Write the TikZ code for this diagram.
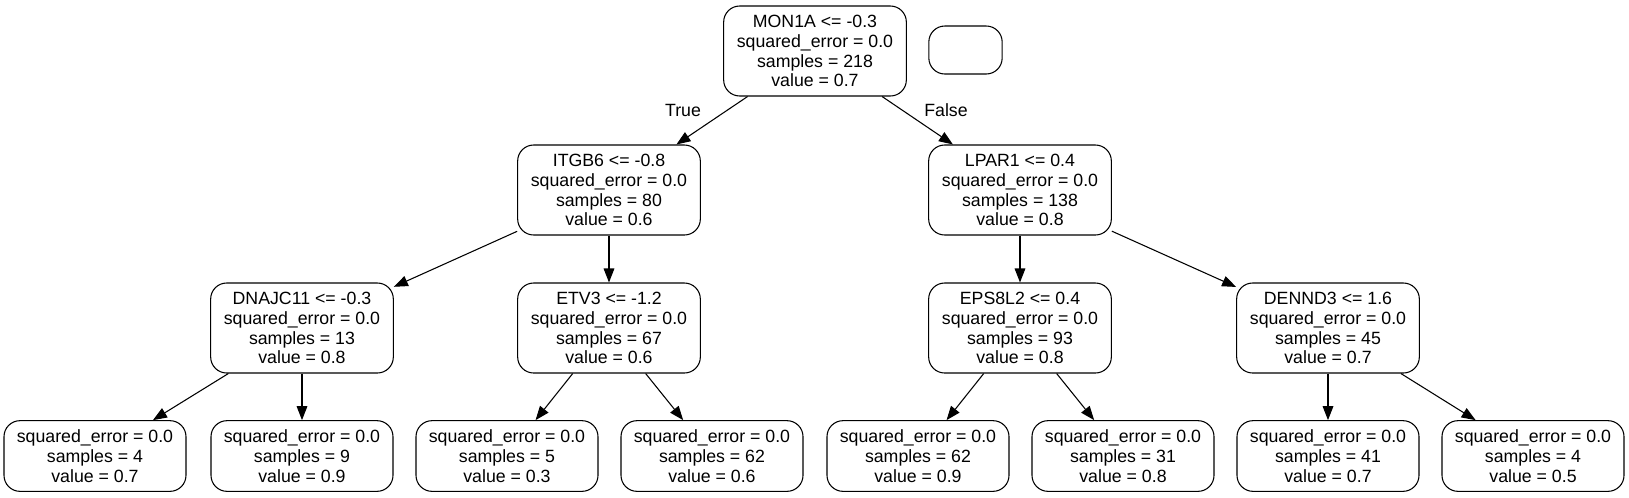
\documentclass[tikz,border=0pt]{standalone}
\usepackage{fontspec}
\setmainfont{Liberation Sans}
\usetikzlibrary{arrows.meta}

\begin{document}
\begin{tikzpicture}[x=0.75pt, y=-0.75pt,
  split/.style={draw, rounded corners=12pt, line width=0.8pt, align=center,
    inner sep=0pt, minimum width=137pt, minimum height=67.5pt,
    font=\fontsize{13.3}{14.9}\selectfont},
  leaf/.style={split, minimum width=136.5pt, minimum height=53pt},
  edge/.style={-{Triangle[length=10.5pt,width=8pt]}, line width=0.8pt}]
  \useasboundingbox (0,0) rectangle (1629,497);
  % root and the empty box next to it
  \node[split] (mon1a) at (815,51) {MON1A <= -0.3\\squared\_error = 0.0\\samples = 218\\value = 0.7};
  \node[draw, rounded corners=12pt, line width=0.8pt, minimum width=55pt, minimum height=36pt] (blank) at (965.5,50) {};
  % second level
  \node[split] (itgb6) at (609,190) {ITGB6 <= -0.8\\squared\_error = 0.0\\samples = 80\\value = 0.6};
  \node[split] (lpar1) at (1020,190) {LPAR1 <= 0.4\\squared\_error = 0.0\\samples = 138\\value = 0.8};
  % third level
  \node[split] (dnajc11) at (302,328) {DNAJC11 <= -0.3\\squared\_error = 0.0\\samples = 13\\value = 0.8};
  \node[split] (etv3) at (609,328) {ETV3 <= -1.2\\squared\_error = 0.0\\samples = 67\\value = 0.6};
  \node[split] (eps8l2) at (1020,328) {EPS8L2 <= 0.4\\squared\_error = 0.0\\samples = 93\\value = 0.8};
  \node[split] (dennd3) at (1328,328) {DENND3 <= 1.6\\squared\_error = 0.0\\samples = 45\\value = 0.7};
  % leaves
  \node[leaf] (l1) at (95,456) {squared\_error = 0.0\\samples = 4\\value = 0.7};
  \node[leaf] (l2) at (302,456) {squared\_error = 0.0\\samples = 9\\value = 0.9};
  \node[leaf] (l3) at (507,456) {squared\_error = 0.0\\samples = 5\\value = 0.3};
  \node[leaf] (l4) at (712,456) {squared\_error = 0.0\\samples = 62\\value = 0.6};
  \node[leaf] (l5) at (918,456) {squared\_error = 0.0\\samples = 62\\value = 0.9};
  \node[leaf] (l6) at (1123,456) {squared\_error = 0.0\\samples = 31\\value = 0.8};
  \node[leaf] (l7) at (1328,456) {squared\_error = 0.0\\samples = 41\\value = 0.7};
  \node[leaf] (l8) at (1533,456) {squared\_error = 0.0\\samples = 4\\value = 0.5};
  % edges
  \foreach \a/\b in {mon1a/itgb6, mon1a/lpar1, itgb6/dnajc11, itgb6/etv3,
      lpar1/eps8l2, lpar1/dennd3, dnajc11/l1, dnajc11/l2, etv3/l3, etv3/l4,
      eps8l2/l5, eps8l2/l6, dennd3/l7, dennd3/l8}
    \draw[edge] (\a) -- (\b);
  \node[font=\fontsize{13.3}{14.9}\selectfont] (true) at (683,110) {True};
  \node[font=\fontsize{13.3}{14.9}\selectfont] (false) at (946,110) {False};
\end{tikzpicture}
\end{document}
